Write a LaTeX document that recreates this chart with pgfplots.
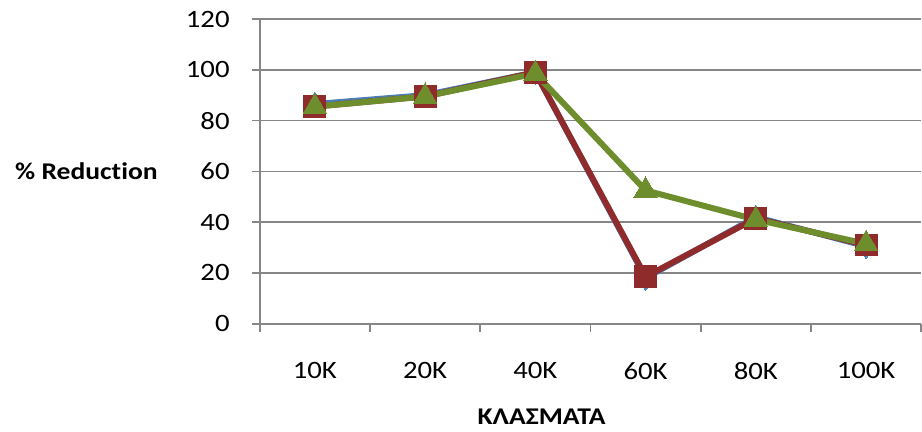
\documentclass[border=0pt]{standalone}
\usepackage{fontspec}
\setmainfont{Carlito}[FakeStretch=1.15, Ligatures=NoCommon]
\usepackage{pgfplots}
\pgfplotsset{compat=1.18}
\definecolor{axgray}{RGB}{134,134,134}
\definecolor{sblue}{RGB}{74,126,187}
\definecolor{sred}{RGB}{143,43,43}
\definecolor{sgreen}{RGB}{110,142,46}
\begin{document}
\begin{tikzpicture}[x=1pt,y=1pt]
\begin{axis}[
  scale only axis, width=662pt, height=305pt,
  at={(0,0)}, anchor=south west,
  xmin=0.5, xmax=6.5, ymin=0, ymax=120,
  axis x line*=bottom, axis y line*=left,
  axis line style={axgray, line width=1.6pt},
  xtick={1,2,3,4,5,6},
  xticklabels={10K,20K,40K,60K,80K,100K},
  minor xtick={0.5,1.5,2.5,3.5,4.5,5.5,6.5},
  major x tick style={draw=none},
  minor x tick style={axgray, line width=1.6pt},
  ytick={0,20,...,120},
  y tick style={axgray, line width=1.6pt},
  tick align=outside,
  major tick length=8pt, minor tick length=8pt,
  ymajorgrids, major grid style={axgray, line width=1.6pt},
  /pgf/number format/assume math mode=true,
  tick label style={font=\fontsize{25}{29}\selectfont, black},
  xticklabel style={anchor=center, yshift=-39pt},
  yticklabel style={anchor=east, inner sep=0pt, xshift=-22pt},
  every axis y label/.style={at={(axis description cs:0,0.5)}, anchor=east, inner sep=0pt, xshift=-102pt, font=\fontsize{24}{28}\selectfont\bfseries},
  every axis x label/.style={at={(axis description cs:0.426,0)}, anchor=center, yshift=-93pt, font=\fontsize{24}{28}\selectfont\bfseries},
  ylabel={\% Reduction},
  xlabel={ΚΛΑΣΜΑΤΑ},
  clip=false,
]
\addplot[sblue, line width=6pt, mark=diamond*, mark size=12pt, mark options={fill=sblue, line width=0pt}] coordinates {(1,86.5) (2,90) (3,99) (4,18) (5,42) (6,30.5)};
\addplot[sred, line width=6pt, mark=square*, mark size=11pt, mark options={fill=sred, line width=0pt}] coordinates {(1,85.5) (2,89.5) (3,99) (4,18.5) (5,41.5) (6,31)};
\addplot[sgreen, line width=6pt, mark=triangle*, mark size=13.5pt, mark options={fill=sgreen, line width=0pt}] coordinates {(1,85.5) (2,89.5) (3,98.5) (4,52.5) (5,41) (6,31.5)};
\end{axis}
\path[use as bounding box] (-260pt,-108pt) rectangle (662pt,324pt);
\end{tikzpicture}
\end{document}
